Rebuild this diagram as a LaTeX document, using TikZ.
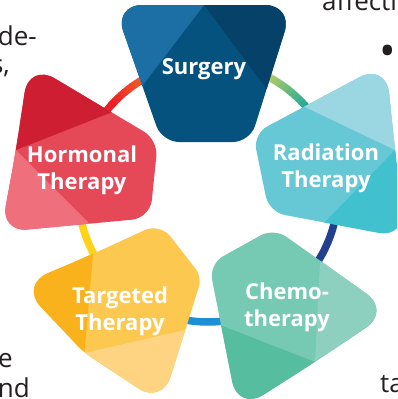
\documentclass[tikz,border=0pt]{standalone}
\usepackage{fontspec}
\setmainfont{Open Sans}
\usetikzlibrary{calc}

\definecolor{surgL}{HTML}{1B6FA4}
\definecolor{surgM}{HTML}{05527F}
\definecolor{surgR}{HTML}{06416A}
\definecolor{hormT}{HTML}{CD1F31}
\definecolor{hormM}{HTML}{E54857}
\definecolor{hormB}{HTML}{EF6F7C}
\definecolor{radT}{HTML}{9BD7E2}
\definecolor{radM}{HTML}{67C8D5}
\definecolor{radB}{HTML}{41C0CE}
\definecolor{chemR}{HTML}{8DD0BF}
\definecolor{chemM}{HTML}{76C9B2}
\definecolor{chemB}{HTML}{56BE9F}
\definecolor{targL}{HTML}{F9B21B}
\definecolor{targM}{HTML}{FDC84F}
\definecolor{targB}{HTML}{FED482}
\definecolor{ringHa}{HTML}{EC1F27}
\definecolor{ringHb}{HTML}{F15A29}
\definecolor{ringSa}{HTML}{C8CE5E}
\definecolor{ringSb}{HTML}{0FA89E}
\definecolor{ringNavy}{HTML}{233F8E}
\definecolor{ringBlue}{HTML}{1E8FD5}
\definecolor{ringYellow}{HTML}{FFD317}
\definecolor{bodygray}{HTML}{231F20}

\tikzset{
  boxtext/.style={text=white, font=\bfseries\fontsize{22}{27}\selectfont, align=center, inner sep=0pt},
  bodytext/.style={text=bodygray, font=\fontsize{26}{28}\selectfont, inner sep=0pt},
  ringline/.style={line width=7.5pt}
}

\begin{document}
\begin{tikzpicture}[x=1pt,y=-1pt]
  \useasboundingbox (0,0) rectangle (397,399);
  \clip (0,0) rectangle (397,399);
  % outlines, each corner with its own rounding
  \def\surgerypath{(204,5) [rounded corners=28] -- (293,5) [rounded corners=17] -- (250,142) [rounded corners=17] -- (162,142) [rounded corners=28] -- (114,5) -- cycle}
  \def\hormonalpath{(16,150) [rounded corners=30] -- (29,63) [rounded corners=16] -- (158,140) [rounded corners=18] -- (150,218) [rounded corners=26] -- (1,232) -- cycle}
  \def\radiationpath{(395,150) [rounded corners=28] -- (406,238) [rounded corners=16] -- (269,212) [rounded corners=16] -- (253,134) [rounded corners=30] -- (386,63) -- cycle}
  \def\chemopath{(315,362) [rounded corners=30] -- (238,411) [rounded corners=16] -- (209,264) [rounded corners=15] -- (274,228) [rounded corners=30] -- (391,311) -- cycle}
  \def\targetedpath{(93,254) [rounded corners=17] -- (160,223) [rounded corners=10] -- (202,277) [rounded corners=28] -- (162,404) [rounded corners=10] -- (84.5,353) [rounded corners=30] -- (20,285) -- cycle}

  % ring
  \draw[ringline, ringNavy] (208,192) ++(-12:130) arc[start angle=-12, end angle=58, radius=130];
  \draw[ringline, ringBlue] (208,192) ++(52:130) arc[start angle=52, end angle=128, radius=130];
  \draw[ringline, ringYellow] (208,192) ++(122:130) arc[start angle=122, end angle=190, radius=130];
  \draw[ringline, ringHa] (208,192) ++(185:130) arc[start angle=185, end angle=223, radius=130];
  \draw[ringline, ringHb] (208,192) ++(241:130) arc[start angle=241, end angle=275, radius=130];
  \foreach \i in {0,...,8}{
    \pgfmathsetmacro\sa{222+2*\i}
    \pgfmathsetmacro\mix{100-100*\i/8}
    \draw[ringline, draw=ringHa!\mix!ringHb] (208,192) ++(\sa:130) arc[start angle=\sa, delta angle=2.3, radius=130];
  }
  \draw[ringline, ringSa] (208,192) ++(-95:130) arc[start angle=-95, end angle=-65, radius=130];
  \draw[ringline, ringSb] (208,192) ++(-39:130) arc[start angle=-39, end angle=-10, radius=130];
  \foreach \i in {0,...,13}{
    \pgfmathsetmacro\sa{-66+2*\i}
    \pgfmathsetmacro\mix{100-100*\i/13}
    \draw[ringline, draw=ringSa!\mix!ringSb] (208,192) ++(\sa:130) arc[start angle=\sa, delta angle=2.3, radius=130];
  }

  % Surgery
  \begin{scope}
    \clip \surgerypath;
    \fill[surgM] (0,0) rectangle (397,399);
    \fill[surgL] ($(143,85)!1.3!(204,5)$) -- ($(204,5)!1.3!(143,85)$) -- ($(204,5)!2!(114,5)$) -- cycle;
    \fill[surgR] ($(266,88)!1.3!(204,5)$) -- ($(204,5)!1.3!(266,88)$) -- ($(204,5)!2!(293,5)$) -- cycle;
  \end{scope}
  % Hormonal
  \begin{scope}
    \clip \hormonalpath;
    \fill[hormM] (0,0) rectangle (397,399);
    \fill[hormT] ($(110,113)!1.3!(16,150)$) -- ($(16,150)!1.3!(110,113)$) -- ($(16,150)!2!(29,63)$) -- cycle;
    \fill[hormB] ($(88,222)!1.3!(16,150)$) -- ($(16,150)!1.3!(88,222)$) -- ($(16,150)!2!(1,232)$) -- cycle;
  \end{scope}
  % Radiation
  \begin{scope}
    \clip \radiationpath;
    \fill[radM] (0,0) rectangle (397,399);
    \fill[radT] ($(305,107)!1.3!(395,150)$) -- ($(395,150)!1.3!(305,107)$) -- ($(395,150)!2!(386,63)$) -- cycle;
    \fill[radB] ($(325,222)!1.3!(395,150)$) -- ($(395,150)!1.3!(325,222)$) -- ($(395,150)!2!(406,238)$) -- cycle;
  \end{scope}
  % Chemo
  \begin{scope}
    \clip \chemopath;
    \fill[chemM] (0,0) rectangle (397,399);
    \fill[chemR] ($(320,262)!1.3!(315,362)$) -- ($(315,362)!1.3!(320,262)$) -- ($(315,362)!2!(391,311)$) -- cycle;
    \fill[chemB] ($(220,325)!1.3!(315,362)$) -- ($(315,362)!1.3!(220,325)$) -- ($(315,362)!2!(238,411)$) -- cycle;
  \end{scope}
  % Targeted
  \begin{scope}
    \clip \targetedpath;
    \fill[targM] (0,0) rectangle (397,399);
    \fill[targL] ($(93,254)!1.3!(84.5,353)$) -- ($(84.5,353)!1.3!(93,254)$) -- ($(84.5,353)!2!(20,285)$) -- cycle;
    \fill[targB] ($(185,330)!1.3!(84.5,353)$) -- ($(84.5,353)!1.3!(185,330)$) -- ($(84.5,353)!2!(162,404)$) -- cycle;
  \end{scope}

  \node[boxtext] (surgery) at (204,69) {Surgery};
  \node[boxtext] (hormonal) at (82,170) {Hormonal\\Therapy};
  \node[boxtext] (radiation) at (326,168) {Radiation\\Therapy};
  \node[boxtext] (chemo) at (287,307) {Chemo-\\therapy};
  \node[boxtext] (targeted) at (120,311) {Targeted\\Therapy};

  % text around
  \node[bodytext, anchor=base east] (txtde) at (37,45) {de-};
  \node[bodytext, anchor=base east] (txts) at (10,73) {s,};
  \node[bodytext, anchor=base west] (txtaff) at (322,10) {affecti};
  \node[bodytext, anchor=base, font=\fontsize{44}{44}\selectfont] (bullet) at (388,66) {•};
  \node[bodytext, anchor=base east] (txte) at (13,367) {e};
  \node[bodytext, anchor=base east] (txtnd) at (30,397) {nd};
  \node[bodytext, anchor=base west] (txtta) at (380,392) {ta};
\end{tikzpicture}
\end{document}
